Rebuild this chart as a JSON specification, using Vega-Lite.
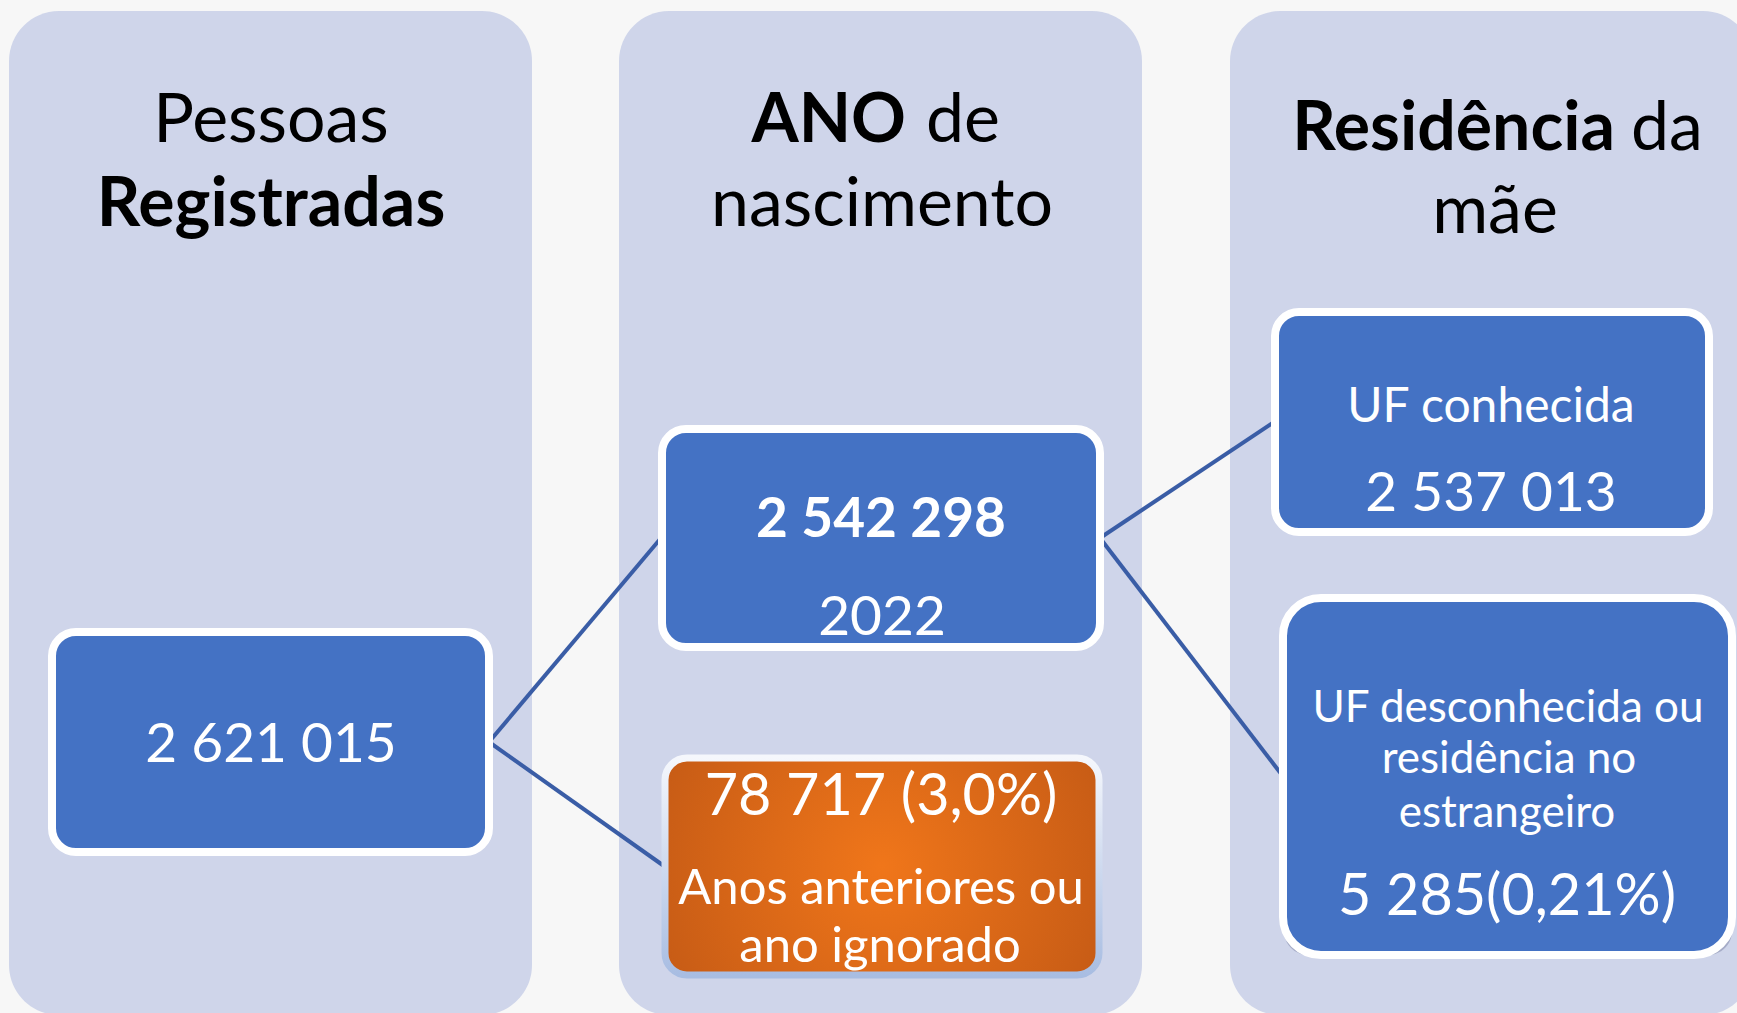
{
  "$schema": "https://vega.github.io/schema/vega-lite/v6.json",
  "width": 1737,
  "height": 1013,
  "autosize": {"type": "none"},
  "padding": 0,
  "background": "#F7F7F7",
  "config": {"view": {"stroke": null}},
  "datasets": {
    "panels": [
      {"panel": "Pessoas Registradas", "x0": 9, "x1": 532, "y0": 11, "y1": 1015},
      {"panel": "ANO de nascimento", "x0": 619, "x1": 1142, "y0": 11, "y1": 1015},
      {"panel": "Residência da mãe", "x0": 1230, "x1": 1753, "y0": 11, "y1": 1015}
    ],
    "boxes": [
      {"box": "total", "kind": "blue", "x0": 52, "x1": 489, "y0": 632, "y1": 852},
      {"box": "ano2022", "kind": "blue", "x0": 662, "x1": 1100, "y0": 429, "y1": 647},
      {"box": "outros", "kind": "orange", "x0": 665, "x1": 1099, "y0": 758, "y1": 975},
      {"box": "ufconhecida", "kind": "blue", "x0": 1275, "x1": 1709, "y0": 312, "y1": 532},
      {"box": "ufdesconhecida", "kind": "blueBig", "x0": 1283, "x1": 1732, "y0": 598, "y1": 955}
    ],
    "links": [
      {"from": "total", "to": "ano2022", "x0": 489, "y0": 742, "x1": 661, "y1": 538},
      {"from": "total", "to": "outros", "x0": 489, "y0": 742, "x1": 664, "y1": 866},
      {"from": "ano2022", "to": "ufconhecida", "x0": 1100, "y0": 538, "x1": 1274, "y1": 422},
      {"from": "ano2022", "to": "ufdesconhecida", "x0": 1100, "y0": 538, "x1": 1282, "y1": 775}
    ],
    "labels": [
      {"text": "Pessoas", "x": 271, "y": 142, "role": "title"},
      {"text": "Registradas", "x": 271, "y": 226, "role": "titleBold"},
      {"text": "ANO", "x": 906, "y": 142, "role": "titleBoldLead"},
      {"text": "de", "x": 926, "y": 142, "role": "titleTail"},
      {"text": "nascimento", "x": 882, "y": 226, "role": "title"},
      {"text": "Residência", "x": 1615, "y": 150, "role": "titleBoldLead"},
      {"text": "da", "x": 1631, "y": 150, "role": "titleTail"},
      {"text": "mãe", "x": 1495, "y": 233, "role": "title"},
      {"text": "2 621 015", "x": 271, "y": 762, "role": "value"},
      {"text": "2 542 298", "x": 881, "y": 537, "role": "valueBold"},
      {"text": "2022", "x": 882, "y": 635, "role": "value"},
      {"text": "78 717 (3,0%)", "x": 881, "y": 815, "role": "valueLarge"},
      {"text": "Anos anteriores ou", "x": 881, "y": 904, "role": "label"},
      {"text": "ano ignorado", "x": 880, "y": 962, "role": "label"},
      {"text": "UF conhecida", "x": 1491, "y": 422, "role": "labelMid"},
      {"text": "2 537 013", "x": 1491, "y": 511, "role": "value"},
      {"text": "UF desconhecida ou", "x": 1508, "y": 722, "role": "labelSmall"},
      {"text": "residência no", "x": 1509, "y": 773, "role": "labelSmall"},
      {"text": "estrangeiro", "x": 1507, "y": 827, "role": "labelSmall"},
      {"text": "5 285(0,21%)", "x": 1507, "y": 915, "role": "valueLarge"}
    ]
  },
  "layer": [
    {
      "data": {"name": "panels"},
      "mark": {"type": "rect", "fill": "#CFD5EA", "cornerRadius": 50, "clip": true},
      "encoding": {
        "x": {"field": "x0", "type": "quantitative", "scale": {"domain": [0, 1737], "nice": false, "zero": false}, "axis": null},
        "x2": {"field": "x1"},
        "y": {"field": "y0", "type": "quantitative", "scale": {"domain": [0, 1013], "reverse": true, "nice": false, "zero": false}, "axis": null},
        "y2": {"field": "y1"}
      }
    },
    {
      "data": {"name": "links"},
      "mark": {"type": "rule", "stroke": "#3A5DA6", "strokeWidth": 4},
      "encoding": {
        "x": {"field": "x0", "type": "quantitative", "scale": {"domain": [0, 1737], "nice": false, "zero": false}, "axis": null},
        "x2": {"field": "x1"},
        "y": {"field": "y0", "type": "quantitative", "scale": {"domain": [0, 1013], "reverse": true, "nice": false, "zero": false}, "axis": null},
        "y2": {"field": "y1"}
      }
    },
    {
      "data": {"name": "boxes"},
      "mark": {"type": "rect", "fill": "#5A6288", "opacity": 0.35, "cornerRadius": 24, "xOffset": 1, "yOffset": 5, "clip": true},
      "encoding": {
        "x": {"field": "x0", "type": "quantitative", "scale": {"domain": [0, 1737], "nice": false, "zero": false}, "axis": null},
        "x2": {"field": "x1"},
        "y": {"field": "y0", "type": "quantitative", "scale": {"domain": [0, 1013], "reverse": true, "nice": false, "zero": false}, "axis": null},
        "y2": {"field": "y1"}
      }
    },
    {
      "data": {"name": "boxes"},
      "transform": [{"filter": "datum.kind === 'blue'"}],
      "mark": {"type": "rect", "fill": "#4472C4", "stroke": "#FFFFFF", "strokeWidth": 8, "cornerRadius": 24},
      "encoding": {
        "x": {"field": "x0", "type": "quantitative", "scale": {"domain": [0, 1737], "nice": false, "zero": false}, "axis": null},
        "x2": {"field": "x1"},
        "y": {"field": "y0", "type": "quantitative", "scale": {"domain": [0, 1013], "reverse": true, "nice": false, "zero": false}, "axis": null},
        "y2": {"field": "y1"}
      }
    },
    {
      "data": {"name": "boxes"},
      "transform": [{"filter": "datum.kind === 'blueBig'"}],
      "mark": {"type": "rect", "fill": "#4472C4", "stroke": "#FFFFFF", "strokeWidth": 8, "cornerRadius": 38},
      "encoding": {
        "x": {"field": "x0", "type": "quantitative", "scale": {"domain": [0, 1737], "nice": false, "zero": false}, "axis": null},
        "x2": {"field": "x1"},
        "y": {"field": "y0", "type": "quantitative", "scale": {"domain": [0, 1013], "reverse": true, "nice": false, "zero": false}, "axis": null},
        "y2": {"field": "y1"}
      }
    },
    {
      "data": {"name": "boxes"},
      "transform": [{"filter": "datum.kind === 'orange'"}],
      "mark": {
        "type": "rect",
        "cornerRadius": 22,
        "strokeWidth": 7,
        "fill": {"gradient": "radial", "x1": 0.5, "y1": 0.5, "r1": 0, "x2": 0.5, "y2": 0.5, "r2": 0.75, "stops": [{"offset": 0, "color": "#F0761A"}, {"offset": 1, "color": "#B85214"}]},
        "stroke": {"gradient": "linear", "x1": 0, "y1": 0, "x2": 0, "y2": 1, "stops": [{"offset": 0, "color": "#F5F7FC"}, {"offset": 1, "color": "#A8BDE2"}]}
      },
      "encoding": {
        "x": {"field": "x0", "type": "quantitative", "scale": {"domain": [0, 1737], "nice": false, "zero": false}, "axis": null},
        "x2": {"field": "x1"},
        "y": {"field": "y0", "type": "quantitative", "scale": {"domain": [0, 1013], "reverse": true, "nice": false, "zero": false}, "axis": null},
        "y2": {"field": "y1"}
      }
    },
    {
      "data": {"name": "labels"},
      "transform": [{"filter": "datum.role === 'title'"}],
      "mark": {"type": "text", "font": "Lato", "fontSize": 68, "color": "#000000", "align": "center", "baseline": "alphabetic"},
      "encoding": {
        "x": {"field": "x", "type": "quantitative", "scale": {"domain": [0, 1737], "nice": false, "zero": false}, "axis": null},
        "y": {"field": "y", "type": "quantitative", "scale": {"domain": [0, 1013], "reverse": true, "nice": false, "zero": false}, "axis": null},
        "text": {"field": "text"}
      }
    },
    {
      "data": {"name": "labels"},
      "transform": [{"filter": "datum.role === 'titleBold'"}],
      "mark": {"type": "text", "font": "Lato", "fontSize": 68, "fontWeight": "bold", "color": "#000000", "align": "center", "baseline": "alphabetic"},
      "encoding": {
        "x": {"field": "x", "type": "quantitative", "scale": {"domain": [0, 1737], "nice": false, "zero": false}, "axis": null},
        "y": {"field": "y", "type": "quantitative", "scale": {"domain": [0, 1013], "reverse": true, "nice": false, "zero": false}, "axis": null},
        "text": {"field": "text"}
      }
    },
    {
      "data": {"name": "labels"},
      "transform": [{"filter": "datum.role === 'titleBoldLead'"}],
      "mark": {"type": "text", "font": "Lato", "fontSize": 68, "fontWeight": "bold", "color": "#000000", "align": "right", "baseline": "alphabetic"},
      "encoding": {
        "x": {"field": "x", "type": "quantitative", "scale": {"domain": [0, 1737], "nice": false, "zero": false}, "axis": null},
        "y": {"field": "y", "type": "quantitative", "scale": {"domain": [0, 1013], "reverse": true, "nice": false, "zero": false}, "axis": null},
        "text": {"field": "text"}
      }
    },
    {
      "data": {"name": "labels"},
      "transform": [{"filter": "datum.role === 'titleTail'"}],
      "mark": {"type": "text", "font": "Lato", "fontSize": 68, "color": "#000000", "align": "left", "baseline": "alphabetic"},
      "encoding": {
        "x": {"field": "x", "type": "quantitative", "scale": {"domain": [0, 1737], "nice": false, "zero": false}, "axis": null},
        "y": {"field": "y", "type": "quantitative", "scale": {"domain": [0, 1013], "reverse": true, "nice": false, "zero": false}, "axis": null},
        "text": {"field": "text"}
      }
    },
    {
      "data": {"name": "labels"},
      "transform": [{"filter": "datum.role === 'value'"}],
      "mark": {"type": "text", "font": "Lato", "fontSize": 55, "color": "#FFFFFF", "align": "center", "baseline": "alphabetic"},
      "encoding": {
        "x": {"field": "x", "type": "quantitative", "scale": {"domain": [0, 1737], "nice": false, "zero": false}, "axis": null},
        "y": {"field": "y", "type": "quantitative", "scale": {"domain": [0, 1013], "reverse": true, "nice": false, "zero": false}, "axis": null},
        "text": {"field": "text"}
      }
    },
    {
      "data": {"name": "labels"},
      "transform": [{"filter": "datum.role === 'valueLarge'"}],
      "mark": {"type": "text", "font": "Lato", "fontSize": 57.5, "color": "#FFFFFF", "align": "center", "baseline": "alphabetic"},
      "encoding": {
        "x": {"field": "x", "type": "quantitative", "scale": {"domain": [0, 1737], "nice": false, "zero": false}, "axis": null},
        "y": {"field": "y", "type": "quantitative", "scale": {"domain": [0, 1013], "reverse": true, "nice": false, "zero": false}, "axis": null},
        "text": {"field": "text"}
      }
    },
    {
      "data": {"name": "labels"},
      "transform": [{"filter": "datum.role === 'valueBold'"}],
      "mark": {"type": "text", "font": "Lato", "fontSize": 55, "fontWeight": "bold", "color": "#FFFFFF", "align": "center", "baseline": "alphabetic"},
      "encoding": {
        "x": {"field": "x", "type": "quantitative", "scale": {"domain": [0, 1737], "nice": false, "zero": false}, "axis": null},
        "y": {"field": "y", "type": "quantitative", "scale": {"domain": [0, 1013], "reverse": true, "nice": false, "zero": false}, "axis": null},
        "text": {"field": "text"}
      }
    },
    {
      "data": {"name": "labels"},
      "transform": [{"filter": "datum.role === 'label'"}],
      "mark": {"type": "text", "font": "Lato", "fontSize": 49, "color": "#FFFFFF", "align": "center", "baseline": "alphabetic"},
      "encoding": {
        "x": {"field": "x", "type": "quantitative", "scale": {"domain": [0, 1737], "nice": false, "zero": false}, "axis": null},
        "y": {"field": "y", "type": "quantitative", "scale": {"domain": [0, 1013], "reverse": true, "nice": false, "zero": false}, "axis": null},
        "text": {"field": "text"}
      }
    },
    {
      "data": {"name": "labels"},
      "transform": [{"filter": "datum.role === 'labelMid'"}],
      "mark": {"type": "text", "font": "Lato", "fontSize": 48, "color": "#FFFFFF", "align": "center", "baseline": "alphabetic"},
      "encoding": {
        "x": {"field": "x", "type": "quantitative", "scale": {"domain": [0, 1737], "nice": false, "zero": false}, "axis": null},
        "y": {"field": "y", "type": "quantitative", "scale": {"domain": [0, 1013], "reverse": true, "nice": false, "zero": false}, "axis": null},
        "text": {"field": "text"}
      }
    },
    {
      "data": {"name": "labels"},
      "transform": [{"filter": "datum.role === 'labelSmall'"}],
      "mark": {"type": "text", "font": "Lato", "fontSize": 44, "color": "#FFFFFF", "align": "center", "baseline": "alphabetic"},
      "encoding": {
        "x": {"field": "x", "type": "quantitative", "scale": {"domain": [0, 1737], "nice": false, "zero": false}, "axis": null},
        "y": {"field": "y", "type": "quantitative", "scale": {"domain": [0, 1013], "reverse": true, "nice": false, "zero": false}, "axis": null},
        "text": {"field": "text"}
      }
    }
  ]
}
